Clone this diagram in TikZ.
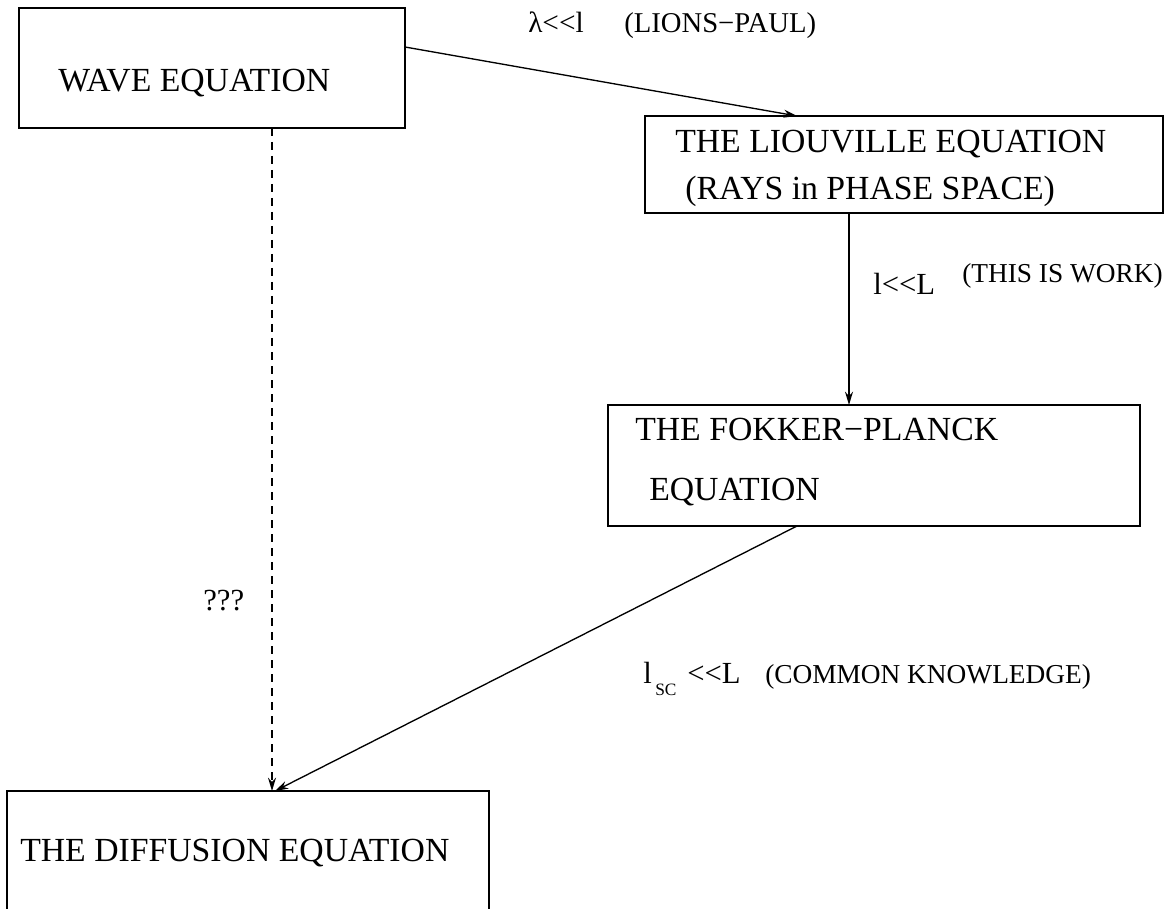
\documentclass[tikz,border=0pt]{standalone}
\usepackage{fontspec}
\setmainfont{Liberation Serif}
\usetikzlibrary{arrows.meta,calc}
\begin{document}
\begin{tikzpicture}[x=0.75pt,y=-0.75pt,
  box/.style={draw,line width=1.5pt,rectangle,inner sep=0pt,outer sep=0pt},
  boxtext/.style={anchor=base west,inner sep=0pt,font=\fontsize{25.3}{28}\selectfont},
  lab/.style={anchor=base west,inner sep=0pt,font=\fontsize{20.5}{22}\selectfont},
  biglab/.style={anchor=base west,inner sep=0pt,font=\fontsize{23}{26}\selectfont},
  sublab/.style={anchor=base west,inner sep=0pt,font=\fontsize{13}{15}\selectfont},
  conn/.style={line width=1pt,-{Stealth[length=10pt,width=6pt]}},
  dconn/.style={conn,dash pattern=on 6pt off 4.5pt}
]
\clip (0,0) rectangle (1171,909);
\fill[white] (0,0) rectangle (1171,909);

% boxes
\node[box,minimum width=386*0.75pt,minimum height=120*0.75pt] (wave) at (212,68) {};
\node[box,minimum width=518*0.75pt,minimum height=97*0.75pt] (liou) at (904,164.5) {};
\node[box,minimum width=532*0.75pt,minimum height=121*0.75pt] (fokker) at (874,465.5) {};
\node[box,minimum width=482*0.75pt,minimum height=169*0.75pt] (diff) at (248,875.5) {};

% box texts
\node[boxtext] (wavet) at (58,92) {WAVE EQUATION};
\node[boxtext] (liout1) at (675,153) {THE LIOUVILLE EQUATION};
\node[boxtext] (liout2) at (685,200) {(RAYS in PHASE SPACE)};
\node[boxtext] (fokt1) at (635,440) {THE FOKKER−PLANCK};
\node[boxtext] (fokt2) at (649,500) {EQUATION};
\node[boxtext] (difft) at (20,861) {THE DIFFUSION EQUATION};

% labels
\node[lab,font=\fontsize{22}{24}\selectfont] (l1a) at (528,33) {λ<{}<l};
\node[lab,font=\fontsize{21.5}{24}\selectfont] (l1b) at (624,33) {(LIONS−PAUL)};
\node[biglab] (l2a) at (873,295) {l<{}<L};
\node[lab] (l2b) at (962,283) {(THIS IS WORK)};
\node[biglab] (l3a) at (643,683) {l};
\node[sublab] (l3s) at (655,695) {SC};
\node[biglab] (l3b) at (687,683) {<{}<L};
\node[lab] (l3c) at (765,683) {(COMMON KNOWLEDGE)};
\node[biglab] (l4) at (203,610) {???};

% connectors
\draw[conn] ($(wave.north east)+(0,39)$) -- ($(liou.north west)+(152,0)$);
\draw[conn] ($(liou.south west)+(204,0)$) -- ($(fokker.north west)+(241,0)$);
\draw[conn] ($(fokker.south west)+(189,0)$) -- ($(diff.north west)+(268,0)$);
\draw[dconn] ($(wave.south west)+(253,0)$) -- ($(diff.north west)+(265,0)$);
\end{tikzpicture}
\end{document}
